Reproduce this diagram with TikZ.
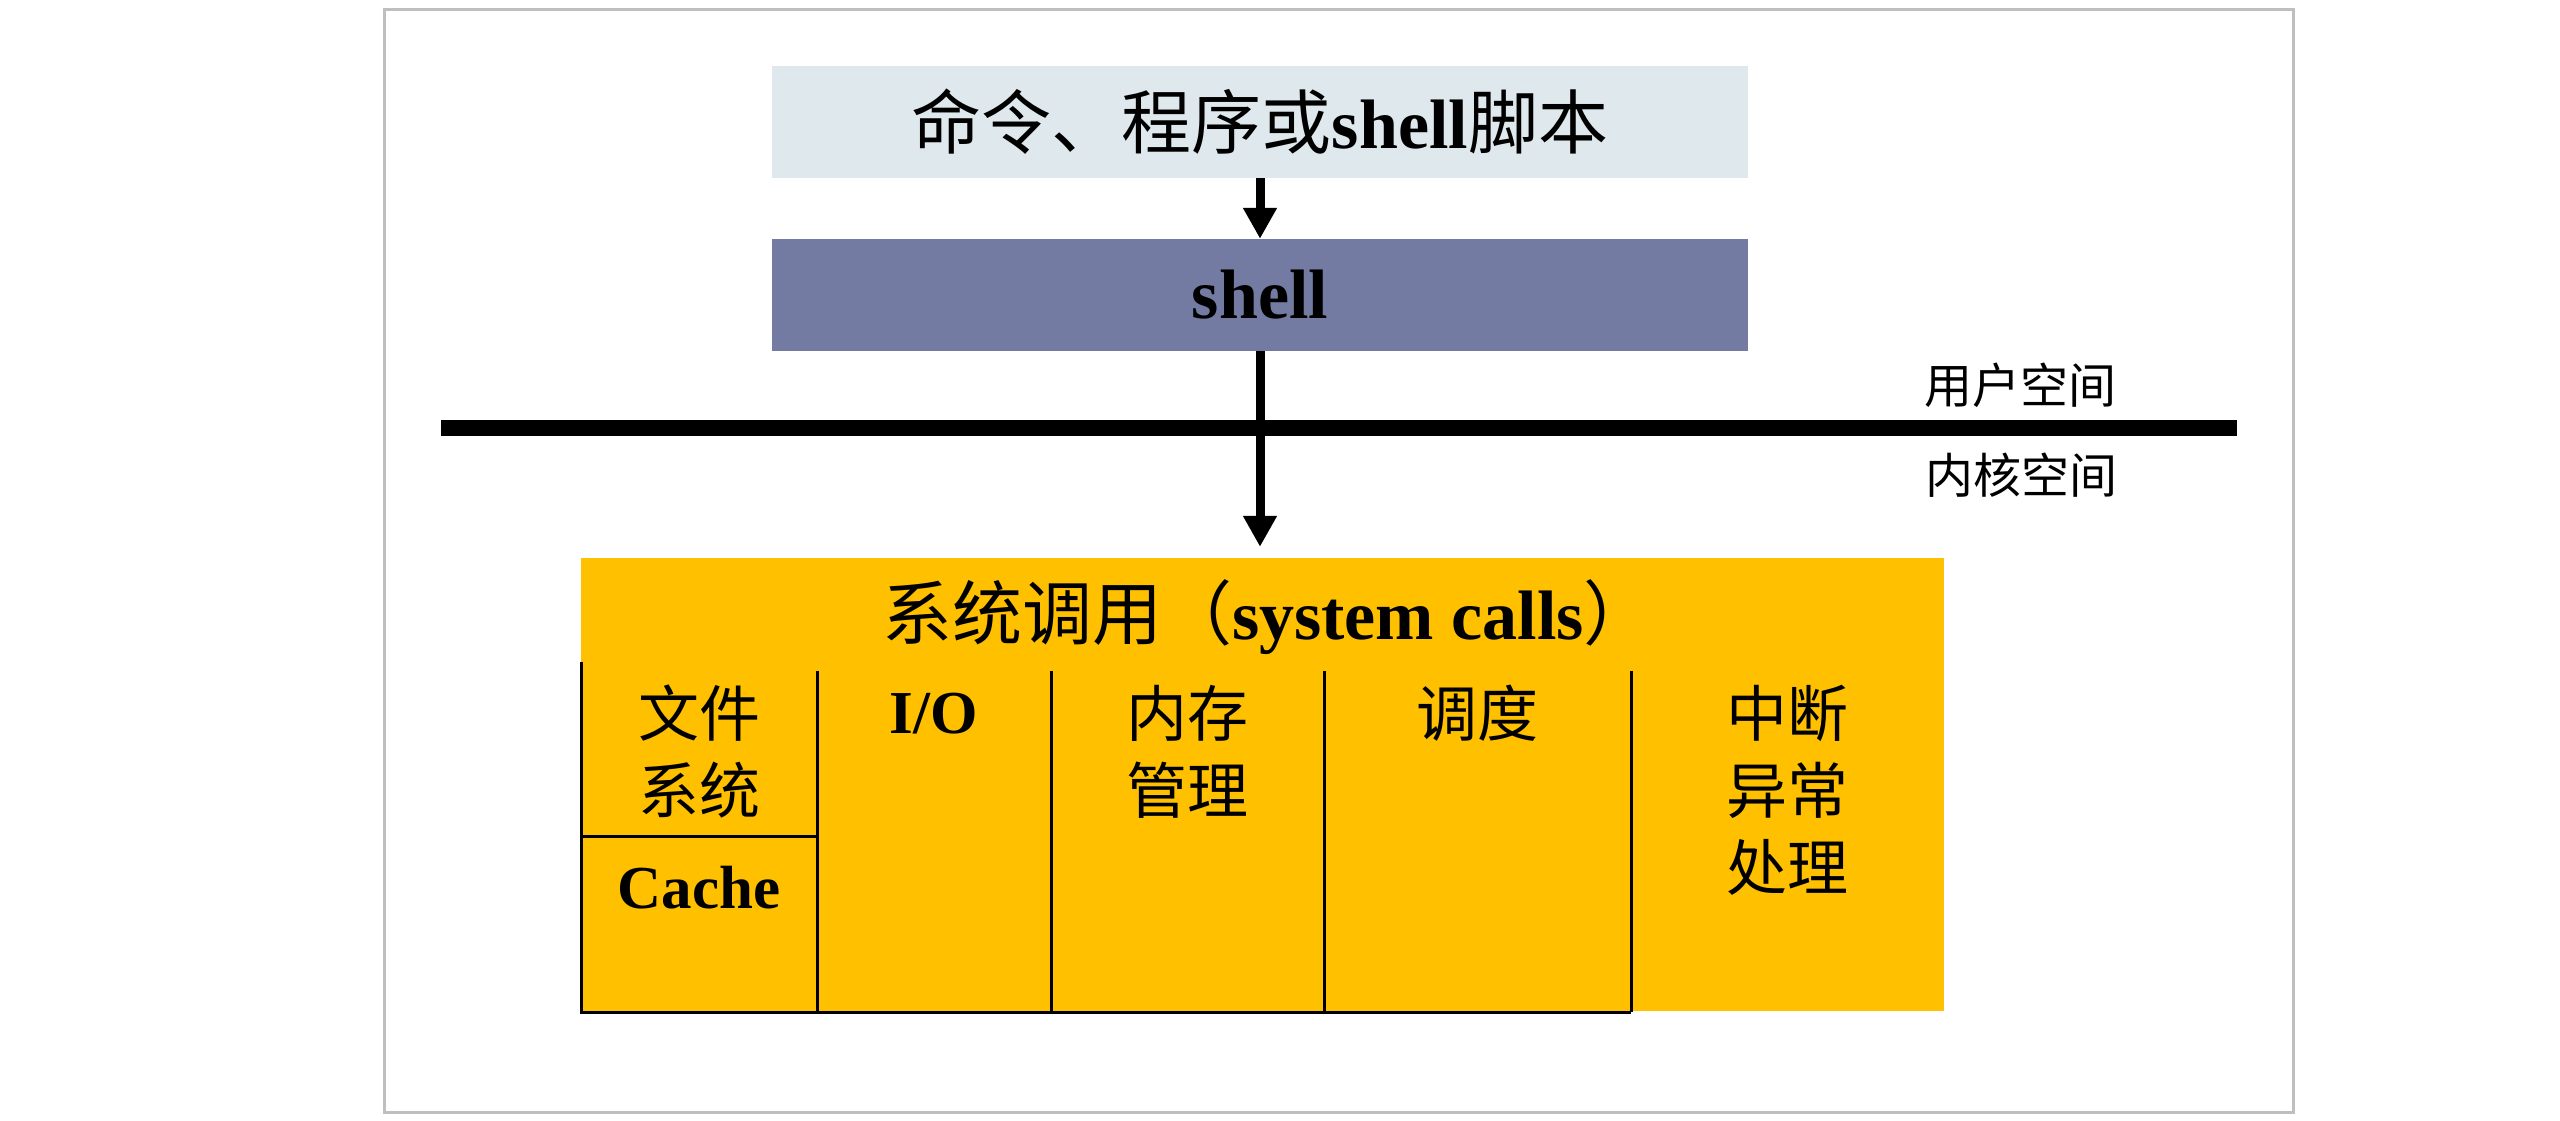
\documentclass[tikz,border=0pt]{standalone}
\usepackage{fontspec}
\usepackage{xcolor}
\usepackage{tikz}
\usetikzlibrary{arrows.meta,positioning}
\setmainfont{Liberation Serif}
\newfontfamily\cjk{Noto Sans CJK SC}
\definecolor{cmdfill}{HTML}{DEE8ED}
\definecolor{shellfill}{HTML}{737BA3}
\definecolor{sysfill}{HTML}{FFC000}
\definecolor{framegray}{HTML}{BFBFBF}
\begin{document}
\begin{tikzpicture}[x=1pt,y=-1pt,
  box/.style={inner sep=0pt,minimum width=976pt,minimum height=112pt},
  cell/.style={anchor=north,inner sep=0pt,align=center,font=\cjk\fontsize{61}{77}\selectfont},
  latincell/.style={anchor=north,inner sep=0pt,font=\bfseries\fontsize{61}{77}\selectfont},
  arr/.style={line width=9pt,-{Triangle[width=32pt,length=31pt]}},
  sepline/.style={line width=3pt}]
\useasboundingbox (0,0) rectangle (2560,1120);
\draw [framegray,line width=3pt] (384,9) rectangle (2293,1112);
%Boxes
\draw (1260,122) node [box,fill=cmdfill] (cmd) {\fontsize{70}{84}\selectfont{\cjk 命令、程序或}\textbf{shell}{\cjk 脚本}};
\draw (1260,295) node [box,fill=shellfill] (shell) {\fontsize{70}{84}\selectfont\textbf{shell}};
\draw (1262.5,784.5) node [inner sep=0pt,minimum width=1363pt,minimum height=453pt,fill=sysfill] (sysc) {};
\draw [arr] (cmd.south) -- (shell.north);
\draw [arr,shorten >=11pt] (shell.south) -- (shell.south |- sysc.north);
%Boundary
\coordinate (ul) at (441,428);
\coordinate (ur) at (2237,428);
\draw [line width=16pt] (ul) -- (ur);
\draw (2020,385) node [font=\cjk\fontsize{48}{58}\selectfont] (user) {用户空间};
\draw (2021,475) node [font=\cjk\fontsize{48}{58}\selectfont] (kernel) {内核空间};
%Text
\draw (1268,617) node [font=\fontsize{70}{84}\selectfont] (title) {{\cjk 系统调用（}\textbf{system calls}{\cjk ）}};
\draw [sepline] (581,662) -- (581,1012) -- (1631,1012);
\foreach \x in {817,1051,1324,1631}
  \draw [sepline] (\x,671) -- (\x,1012);
\draw [sepline] (581,836) -- (817,836);
\draw (699,685) node [cell] (fs) {文件\\系统};
\draw (699,866) node [latincell] (cache) {Cache};
\draw (934,693) node [latincell] (io) {I/O};
\draw (1187,685) node [cell] (mem) {内存\\管理};
\draw (1477,685) node [cell] (sched) {调度};
\draw (1787,685) node [cell] (intr) {中断\\异常\\处理};
\end{tikzpicture}
\end{document}
